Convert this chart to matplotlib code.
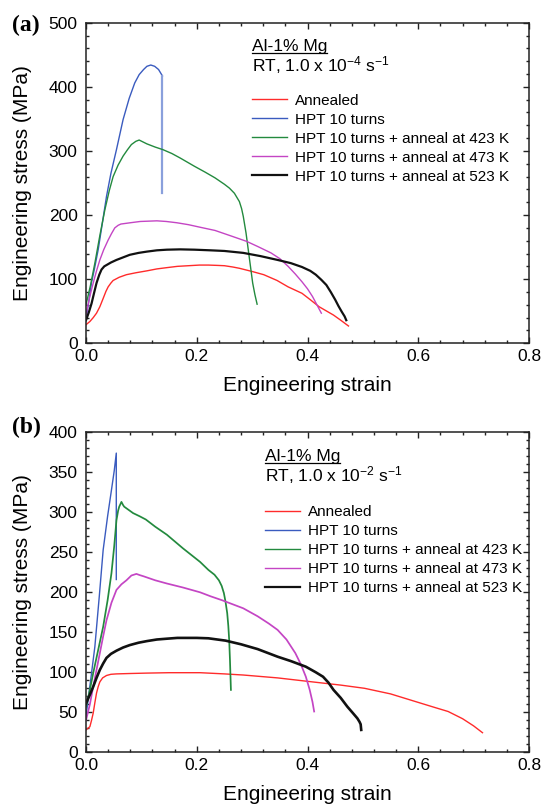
import matplotlib
matplotlib.use("Agg")
import matplotlib.pyplot as plt
from matplotlib.ticker import MultipleLocator, AutoMinorLocator, FormatStrFormatter
from matplotlib.lines import Line2D

plt.rcParams['font.family'] = ['Liberation Sans', 'DejaVu Sans']
plt.rcParams['mathtext.default'] = 'regular'

# ---------------- data: panel (a) 1.0e-4 s^-1 ----------------
red_a_x = [0.0, 0.007, 0.013, 0.019, 0.025, 0.031, 0.036, 0.040, 0.045, 0.049, 0.06, 0.073, 0.09, 0.11, 0.128, 0.146, 0.165, 0.185, 0.205, 0.221, 0.237, 0.25, 0.265, 0.277, 0.3, 0.321, 0.345, 0.365, 0.38, 0.39, 0.405, 0.421, 0.435, 0.447, 0.46, 0.474]
red_a_y = [29, 34, 40, 47, 57, 70, 81, 88, 94, 98, 103, 107, 110, 113, 116, 118, 120, 121, 122, 122, 121.5, 121, 119, 117, 112, 107, 98, 88, 82, 78, 68, 57, 50, 44, 36, 27]

blue_a_x = [0.0, 0.005, 0.01, 0.015, 0.022, 0.03, 0.037, 0.045, 0.055, 0.067, 0.078, 0.088, 0.096, 0.104, 0.11, 0.117, 0.124, 0.131, 0.138, 0.138]
blue_a_y = [38, 65, 95, 115, 146, 190, 229, 265, 302, 349, 382, 406, 419, 427, 432, 434, 432, 427, 417, 235]

green_a_x = [0.0, 0.008, 0.016, 0.025, 0.034, 0.042, 0.049, 0.058, 0.067, 0.075, 0.082, 0.09, 0.096, 0.103, 0.11, 0.125, 0.139, 0.155, 0.17, 0.196, 0.215, 0.233, 0.25, 0.259, 0.268, 0.277, 0.281, 0.284, 0.289, 0.293, 0.297, 0.301, 0.305, 0.309]
green_a_y = [60, 90, 125, 168, 208, 238, 260, 278, 292, 302, 310, 315, 317, 314, 311, 306, 302, 296, 289, 276, 267, 258, 248, 242, 234, 221, 210, 198, 172, 146, 120, 94, 76, 61]

mag_a_x = [0.0, 0.006, 0.013, 0.019, 0.025, 0.032, 0.04, 0.046, 0.052, 0.058, 0.063, 0.08, 0.098, 0.128, 0.145, 0.164, 0.185, 0.206, 0.233, 0.26, 0.29, 0.31, 0.334, 0.35, 0.365, 0.378, 0.39, 0.4, 0.409, 0.417, 0.425]
mag_a_y = [44, 70, 94, 113, 130, 146, 161, 171, 180, 184, 186, 188, 190, 191, 190, 188, 185, 181, 176, 168, 159, 151, 141, 132, 120, 108, 96, 85, 73, 60, 47]

blk_a_x = [0.0, 0.005, 0.01, 0.015, 0.019, 0.024, 0.028, 0.033, 0.037, 0.045, 0.055, 0.067, 0.079, 0.095, 0.11, 0.128, 0.146, 0.17, 0.196, 0.225, 0.25, 0.284, 0.315, 0.346, 0.37, 0.39, 0.405, 0.415, 0.425, 0.434, 0.442, 0.45, 0.456, 0.462, 0.467, 0.47]
blk_a_y = [36, 48, 62, 80, 94, 107, 115, 120, 122, 126, 130, 134, 138, 141, 143, 145, 146, 146.5, 146, 145, 144, 141, 136, 130, 125, 119, 113, 107, 99, 91, 80, 68, 58, 49, 42, 36]

# ---------------- data: panel (b) 1.0e-2 s^-1 ----------------
red_b_x = [0.0, 0.007, 0.01, 0.013, 0.016, 0.019, 0.022, 0.025, 0.03, 0.037, 0.045, 0.055, 0.08, 0.11, 0.15, 0.206, 0.25, 0.284, 0.346, 0.409, 0.46, 0.503, 0.55, 0.597, 0.63, 0.654, 0.68, 0.7, 0.716]
red_b_y = [28, 32, 40, 49, 62, 74, 82, 88, 93, 96, 97.5, 98, 98.5, 99, 99.5, 99.5, 98, 96.6, 93, 88, 84, 80, 73, 63, 56, 51, 42, 33, 24.5]

blue_b_x = [0.0, 0.008, 0.016, 0.024, 0.031, 0.039, 0.046, 0.051, 0.0547, 0.0547]
blue_b_y = [45, 88, 132, 195, 253, 295, 328, 352, 374, 216]

green_b_x = [0.0, 0.007, 0.013, 0.022, 0.031, 0.039, 0.046, 0.051, 0.055, 0.058, 0.06, 0.064, 0.067, 0.069, 0.077, 0.085, 0.097, 0.108, 0.125, 0.146, 0.175, 0.206, 0.221, 0.232, 0.24, 0.245, 0.249, 0.252, 0.255, 0.257, 0.2586, 0.26, 0.2617]
green_b_y = [57, 78, 99, 128, 157, 190, 224, 258, 290, 302, 307, 313, 309, 307, 303, 299, 295, 291, 282, 272, 255, 238, 228, 222, 215, 208, 199, 188, 174, 158, 140, 115, 78]

mag_b_x = [0.0, 0.007, 0.013, 0.019, 0.025, 0.031, 0.037, 0.046, 0.055, 0.064, 0.073, 0.082, 0.091, 0.097, 0.104, 0.125, 0.146, 0.175, 0.206, 0.225, 0.246, 0.265, 0.284, 0.31, 0.33, 0.346, 0.362, 0.378, 0.388, 0.397, 0.404, 0.409, 0.412]
mag_b_y = [40, 60, 82, 103, 124, 145, 165, 187, 203, 210, 215, 221, 223, 221.5, 220, 215, 211, 206, 200, 195, 190, 185, 180, 170, 161, 153, 141, 124, 110, 94.5, 78, 63, 51]

blk_b_x = [0.0, 0.007, 0.013, 0.019, 0.025, 0.031, 0.037, 0.045, 0.055, 0.067, 0.079, 0.095, 0.11, 0.128, 0.146, 0.165, 0.18, 0.2, 0.221, 0.252, 0.28, 0.31, 0.346, 0.37, 0.397, 0.415, 0.428, 0.438, 0.447, 0.46, 0.472, 0.482, 0.49, 0.494, 0.496, 0.497]
blk_b_y = [61, 72, 82, 93, 103, 111, 118, 123, 127, 131, 134, 137, 139, 141, 142, 143, 143, 143, 142.5, 139.6, 135, 129, 119.5, 114, 107, 100, 94.5, 87, 78, 68, 57, 49, 42.5, 38, 35, 28]

labels = ["Annealed", "HPT 10 turns", "HPT 10 turns + anneal at 423 K",
          "HPT 10 turns + anneal at 473 K", "HPT 10 turns + anneal at 523 K"]
colors = ['#ff2b2b', '#3a5bbf', '#238a3e', '#c445c4', '#111111']
widths_a = [1.0, 1.0, 1.0, 1.0, 1.6]
widths_b = [1.0, 1.0, 1.25, 1.25, 1.9]

fig = plt.figure(figsize=(5.44, 8.06), dpi=100)
W, H = 544.0, 806.0
ax_a = fig.add_axes([86 / W, 1 - 343.3 / H, 443 / W, 320.6 / H])
ax_b = fig.add_axes([86 / W, 1 - 752.3 / H, 443 / W, 320.0 / H])

def style(ax, ymax, ymaj):
    ax.set_xlim(0, 0.8)
    ax.set_ylim(0, ymax)
    ax.xaxis.set_major_locator(MultipleLocator(0.2))
    ax.xaxis.set_minor_locator(AutoMinorLocator(5))
    ax.yaxis.set_major_locator(MultipleLocator(ymaj))
    ax.yaxis.set_minor_locator(AutoMinorLocator(5))
    ax.xaxis.set_major_formatter(FormatStrFormatter('%.1f'))
    ax.tick_params(which='both', direction='in', top=True, right=True, width=1.0,
                   labelsize=12.5, colors='#222222', labelcolor='black')
    ax.tick_params(which='major', length=4.5)
    ax.tick_params(which='minor', length=2.5)
    ax.tick_params(axis='x', pad=4)
    ax.tick_params(axis='y', pad=6)
    for s in ax.spines.values():
        s.set_linewidth(1.1)
        s.set_color('#222222')
    ax.set_xlabel('Engineering strain', fontsize=15, labelpad=9)
    ax.set_ylabel('Engineering stress (MPa)', fontsize=15, labelpad=12)

style(ax_a, 500, 100)
style(ax_b, 400, 50)

series_a = [(red_a_x, red_a_y), (blue_a_x, blue_a_y), (green_a_x, green_a_y), (mag_a_x, mag_a_y), (blk_a_x, blk_a_y)]
series_b = [(red_b_x, red_b_y), (blue_b_x, blue_b_y), (green_b_x, green_b_y), (mag_b_x, mag_b_y), (blk_b_x, blk_b_y)]

for i, (x, y) in enumerate(series_a):
    if i == 1:
        ax_a.plot(x[:-1], y[:-1], color=colors[i], lw=widths_a[i])
        ax_a.plot(x[-2:], y[-2:], color='#8aa0dc', lw=1.6)
    else:
        ax_a.plot(x, y, color=colors[i], lw=widths_a[i])
for i, (x, y) in enumerate(series_b):
    ax_b.plot(x, y, color=colors[i], lw=widths_b[i])

def annotate(ax, x0, rate_text, y_title, y_rt, y_leg, widths):
    t = ax.text(x0, y_title, 'Al-1% Mg', transform=ax.transAxes, fontsize=12.5,
                ha='left', va='baseline')
    ax.text(x0, y_rt, rate_text, transform=ax.transAxes, fontsize=12.5,
            ha='left', va='baseline')
    fig.canvas.draw()
    bb = t.get_window_extent(renderer=fig.canvas.get_renderer())
    inv = ax.transAxes.inverted()
    (x1, _), (x2, _) = inv.transform([(bb.x0, bb.y0), (bb.x1, bb.y0)])
    yl = y_title - 2.0 / 320
    ax.add_line(Line2D([x1, x2], [yl, yl], transform=ax.transAxes, color='black', lw=0.9))
    handles = [Line2D([], [], color=c, lw=w) for c, w in zip(colors, widths)]
    ax.legend(handles, labels, loc='upper left', bbox_to_anchor=(x0, y_leg),
              frameon=False, fontsize=11, handlelength=2.3, handletextpad=0.55,
              labelspacing=0.33, borderpad=0, borderaxespad=0)

annotate(ax_a, 0.374, r'RT, 1.0 x 10$^{-4}$ s$^{-1}$', 0.912, 0.848, 0.779, widths_a)
annotate(ax_b, 0.403, r'RT, 1.0 x 10$^{-2}$ s$^{-1}$', 0.91, 0.845, 0.772, widths_a)

fig.text(12 / W, 1 - 25 / H, '(a)', fontsize=17, fontweight='bold',
         family='Liberation Serif', ha='left', va='center')
fig.text(12 / W, 1 - 427 / H, '(b)', fontsize=17, fontweight='bold',
         family='Liberation Serif', ha='left', va='center')

fig.savefig('out.png', dpi=100)
